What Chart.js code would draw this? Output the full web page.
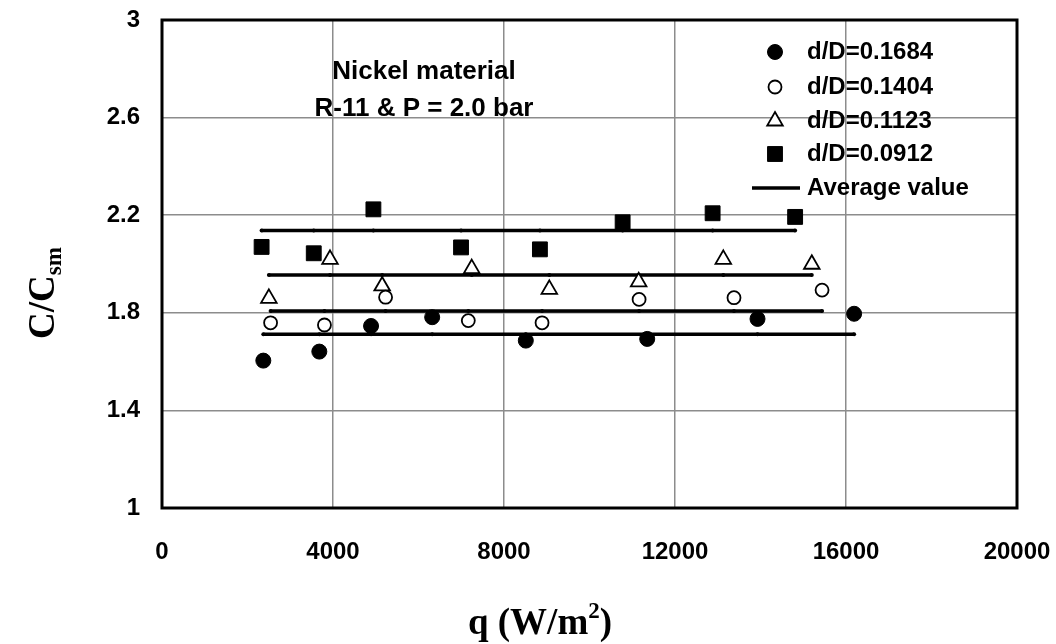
<!DOCTYPE html>
<html>
<head>
<meta charset="utf-8">
<script src="https://cdn.jsdelivr.net/npm/chart.js@4.4.1/dist/chart.umd.min.js"></script>
<style>
  html, body { margin: 0; padding: 0; background: #fff; }
  #wrap { width: 1056px; height: 644px; position: relative; }
</style>
</head>
<body>
<div id="wrap"><canvas id="myChart"></canvas></div>
<script>
// heat flux q (W/m2) and C/Csm for each d/D ratio
var q_1684 = [2370, 3680, 4890, 6320, 8510, 11350, 13930, 16190];
var c_1684 = [1.604, 1.641, 1.746, 1.782, 1.686, 1.693, 1.775, 1.796];

var q_1404 = [2540, 3800, 5230, 7165, 8890, 11160, 13380, 15440];
var c_1404 = [1.759, 1.750, 1.864, 1.768, 1.759, 1.855, 1.862, 1.893];

var q_1123 = [2500, 3930, 5150, 7245, 9060, 11150, 13130, 15200];
var c_1123 = [1.859, 2.019, 1.910, 1.981, 1.896, 1.927, 2.019, 1.999];

var q_0912 = [2330, 3550, 4945, 6995, 8840, 10775, 12880, 14810];
var c_0912 = [2.070, 2.044, 2.224, 2.068, 2.060, 2.171, 2.208, 2.193];

// average value of each series
var avg_values = [1.712, 1.807, 1.955, 2.137];

var series_labels = ["d/D=0.1684", "d/D=0.1404", "d/D=0.1123", "d/D=0.0912"];
var x_ticks = [0, 4000, 8000, 12000, 16000, 20000];
var y_ticks = [1, 1.4, 1.8, 2.2, 2.6, 3];

var tickFont = {family: "'Liberation Sans', Arial, sans-serif", size: 24, weight: "bold"};

function toPoints(xs, ys) {
	var pts = [];
	for (var i in xs) {
		pts.push({x: xs[i], y: ys[i]});
	}
	return pts;
}

function avgLine(xs, val) {
	var pts = [];
	for (var i in xs) {
		pts.push({x: xs[i], y: val});
	}
	return pts;
}

// marker styles for the four series, also used by the legend
var markers = [
	{pointStyle: "circle", radius: 7.5, fill: "#000", stroke: "#000", borderWidth: 1},
	{pointStyle: "circle", radius: 6.5, fill: "#fff", stroke: "#000", borderWidth: 1.8},
	{pointStyle: "triangle", radius: 9, fill: "#fff", stroke: "#000", borderWidth: 1.8},
	{pointStyle: "rect", radius: 10.5, fill: "#000", stroke: "#000", borderWidth: 1}
];

var allX = [q_1684, q_1404, q_1123, q_0912];
var allY = [c_1684, c_1404, c_1123, c_0912];

var datasets = [];
// average lines first so markers sit on top
for (var k = 0; k < 4; k++) {
	datasets.push({
		type: "line",
		label: "Average value",
		data: avgLine(allX[k], avg_values[k]),
		borderColor: "#000",
		borderWidth: 3.5,
		pointRadius: 2,
		pointBackgroundColor: "#000",
		pointBorderWidth: 0,
		fill: false,
		order: 2
	});
}
for (var k = 0; k < 4; k++) {
	datasets.push({
		type: "scatter",
		label: series_labels[k],
		data: toPoints(allX[k], allY[k]),
		pointStyle: markers[k].pointStyle,
		pointRadius: markers[k].radius,
		pointHoverRadius: markers[k].radius,
		backgroundColor: markers[k].fill,
		borderColor: markers[k].stroke,
		borderWidth: markers[k].borderWidth,
		order: 1
	});
}

// frame, annotation, legend and axis titles
var extras = {
	id: "extras",
	afterDraw: function(chart) {
		var ctx = chart.ctx;
		var a = chart.chartArea;
		ctx.save();

		// black box around plot
		ctx.strokeStyle = "#000";
		ctx.lineWidth = 3;
		ctx.strokeRect(a.left, a.top, a.right - a.left, a.bottom - a.top);

		// annotation
		ctx.fillStyle = "#000";
		ctx.font = "bold 26px 'Liberation Sans', Arial, sans-serif";
		ctx.textAlign = "center";
		ctx.textBaseline = "middle";
		ctx.fillText("Nickel material", 424, 72);
		ctx.fillText("R-11 & P = 2.0 bar", 424, 109);

		// legend
		ctx.font = "bold 24px 'Liberation Sans', Arial, sans-serif";
		ctx.textAlign = "left";
		var rows = [52, 87, 121, 154];
		for (var i = 0; i < 4; i++) {
			ctx.fillStyle = markers[i].fill;
			ctx.strokeStyle = markers[i].stroke;
			ctx.lineWidth = markers[i].borderWidth;
			Chart.helpers.drawPoint(ctx, {pointStyle: markers[i].pointStyle, radius: markers[i].radius, rotation: 0, borderWidth: markers[i].borderWidth}, 775, rows[i]);
			ctx.fillStyle = "#000";
			ctx.fillText(series_labels[i], 807, rows[i]);
		}
		ctx.strokeStyle = "#000";
		ctx.lineWidth = 3.5;
		ctx.beginPath();
		ctx.moveTo(752, 188);
		ctx.lineTo(800, 188);
		ctx.stroke();
		ctx.fillStyle = "#000";
		ctx.fillText("Average value", 807, 188);

		// x axis title with superscript
		ctx.textBaseline = "alphabetic";
		ctx.textAlign = "left";
		var big = "bold 37px 'Liberation Serif', 'Times New Roman', serif";
		var small = "bold 23px 'Liberation Serif', 'Times New Roman', serif";
		ctx.font = big;
		var w1 = ctx.measureText("q (W/m").width;
		var w3 = ctx.measureText(")").width;
		ctx.font = small;
		var w2 = ctx.measureText("2").width;
		var xs = 540 - (w1 + w2 + w3) / 2;
		var yb = 634;
		ctx.font = big;
		ctx.fillText("q (W/m", xs, yb);
		ctx.font = small;
		ctx.fillText("2", xs + w1, yb - 16);
		ctx.font = big;
		ctx.fillText(")", xs + w1 + w2, yb);

		// y axis title with subscript
		ctx.translate(54, 293);
		ctx.rotate(-Math.PI / 2);
		ctx.font = big;
		var v1 = ctx.measureText("C/C").width;
		ctx.font = small;
		var v2 = ctx.measureText("sm").width;
		var vs = -(v1 + v2) / 2;
		ctx.font = big;
		ctx.fillText("C/C", vs, 0);
		ctx.font = small;
		ctx.fillText("sm", vs + v1, 7);

		ctx.restore();
	}
};

var ctx = document.getElementById("myChart").getContext("2d");
var chart = new Chart(ctx, {
	data: {datasets: datasets},
	options: {
		responsive: true,
		maintainAspectRatio: false,
		animation: false,
		events: [],
		layout: {padding: {top: 20, right: 39, left: 0, bottom: 0}},
		plugins: {
			legend: {display: false},
			tooltip: {enabled: false}
		},
		scales: {
			x: {
				type: "linear",
				min: 0,
				max: 20000,
				afterBuildTicks: function(s) { s.ticks = x_ticks.map(function(v) { return {value: v}; }); },
				grid: {color: "#8c8c8c", lineWidth: 1.5, drawTicks: false},
				border: {display: false},
				ticks: {color: "#000", font: tickFont, padding: 30, maxRotation: 0,
					callback: function(v) { return String(v); }},
				afterFit: function(s) { s.height = 644 - 508; s.paddingLeft = 0; s.paddingRight = 0; }
			},
			y: {
				type: "linear",
				min: 1,
				max: 3,
				afterBuildTicks: function(s) { s.ticks = y_ticks.map(function(v) { return {value: v}; }); },
				grid: {color: "#8c8c8c", lineWidth: 1.5, drawTicks: false},
				border: {display: false},
				ticks: {color: "#000", font: tickFont, padding: 22,
					callback: function(v) { return String(v); }},
				afterFit: function(s) { s.width = 162; s.paddingTop = 0; s.paddingBottom = 0; }
			}
		}
	},
	plugins: [extras]
});
</script>
</body>
</html>
